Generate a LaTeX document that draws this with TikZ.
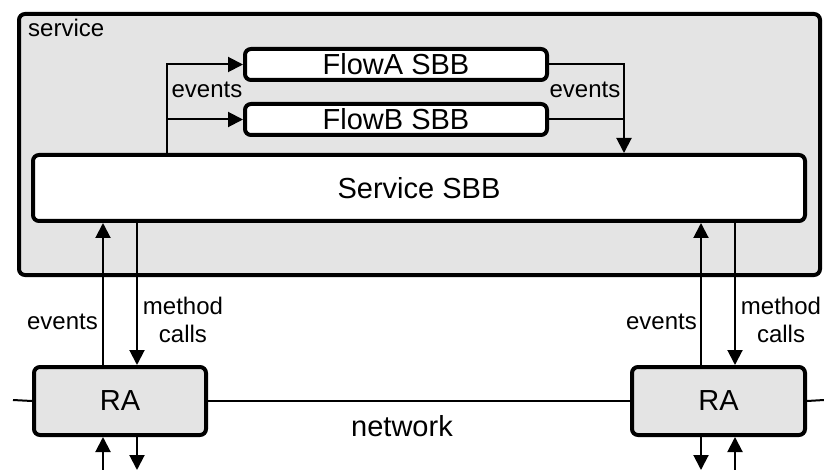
\documentclass[tikz,border=0pt]{standalone}
\usepackage{fontspec}
\setmainfont{Liberation Sans}
\usetikzlibrary{arrows.meta}
\definecolor{boxgray}{HTML}{E4E4E4}
\begin{document}
\begin{tikzpicture}[x=1pt,y=-1pt,
  thickbox/.style={draw=black, line width=4pt, rounded corners=6pt, inner sep=0pt},
  whitebox/.style={thickbox, fill=white, font=\fontsize{29}{31}\selectfont},
  graybox/.style={thickbox, fill=boxgray, font=\fontsize{29}{31}\selectfont},
  conn/.style={line width=2pt},
  arr/.style={conn, -{Triangle[length=15pt,width=15pt]}},
  lbl/.style={font=\fontsize{24}{27}\selectfont, inner sep=0pt}
]
\useasboundingbox (0,0) rectangle (824,470);
% service container
\node[thickbox, fill=boxgray, minimum width=801pt, minimum height=261pt] (svc) at (419.5,144.5) {};
\node[lbl, anchor=base west] (svclbl) at (28,37) {service};
% SBBs
\node[whitebox, minimum width=302pt, minimum height=31pt] (fa) at (396,64.5) {FlowA SBB};
\node[whitebox, minimum width=302pt, minimum height=31pt] (fb) at (396,119.5) {FlowB SBB};
\node[whitebox, minimum width=772pt, minimum height=66pt] (ssb) at (419,188) {Service SBB};
% RAs
\node[graybox, minimum width=172pt, minimum height=68pt] (ra1) at (120,401) {RA};
\node[graybox, minimum width=173pt, minimum height=68pt] (ra2) at (718.5,401) {RA};
% x positions
\coordinate (xL) at (167,0);
\coordinate (xR) at (624,0);
\coordinate (a1) at (103,0);
\coordinate (a2) at (137,0);
\coordinate (b1) at (701,0);
\coordinate (b2) at (735,0);
\coordinate (bot) at (0,470);
\coordinate (netL) at (13,400);
\coordinate (netR) at (824,400);
% events to flows
\draw[arr] (ssb.north -| xL) |- (fa.west);
\draw[arr] (fb.west -| xL) -- (fb.west);
\node[lbl] (evl) at (207,90) {events};
% events from flows
\draw[arr] (fa.east) -| (ssb.north -| xR);
\draw[conn] (fb.east) -- (fb.east -| xR);
\node[lbl] (evr) at (585,90) {events};
% left RA connections
\draw[arr] (ra1.north -| a1) -- (ssb.south -| a1);
\draw[arr] (ssb.south -| a2) -- (ra1.north -| a2);
\node[lbl, anchor=east] (ev1) at (98,322) {events};
\node[lbl, align=center] (mc1) at (183,320) {method\\[1pt]calls};
\draw[arr] (bot -| a1) -- (ra1.south -| a1);
\draw[arr] (ra1.south -| a2) -- (bot -| a2);
% right RA connections
\draw[arr] (ra2.north -| b1) -- (ssb.south -| b1);
\draw[arr] (ssb.south -| b2) -- (ra2.north -| b2);
\node[lbl, anchor=east] (ev2) at (697,322) {events};
\node[lbl, align=center] (mc2) at (781,320) {method\\[1pt]calls};
\draw[arr] (ra2.south -| b1) -- (bot -| b1);
\draw[arr] (bot -| b2) -- (ra2.south -| b2);
% network
\draw[conn] (netL) -- (ra1.west);
\draw[conn] (ra1.east) -- (ra2.west);
\draw[conn] (ra2.east) -- (netR);
\node[font=\fontsize{29}{31}\selectfont, inner sep=0pt, anchor=base] (net) at (402,436) {network};
\end{tikzpicture}
\end{document}
